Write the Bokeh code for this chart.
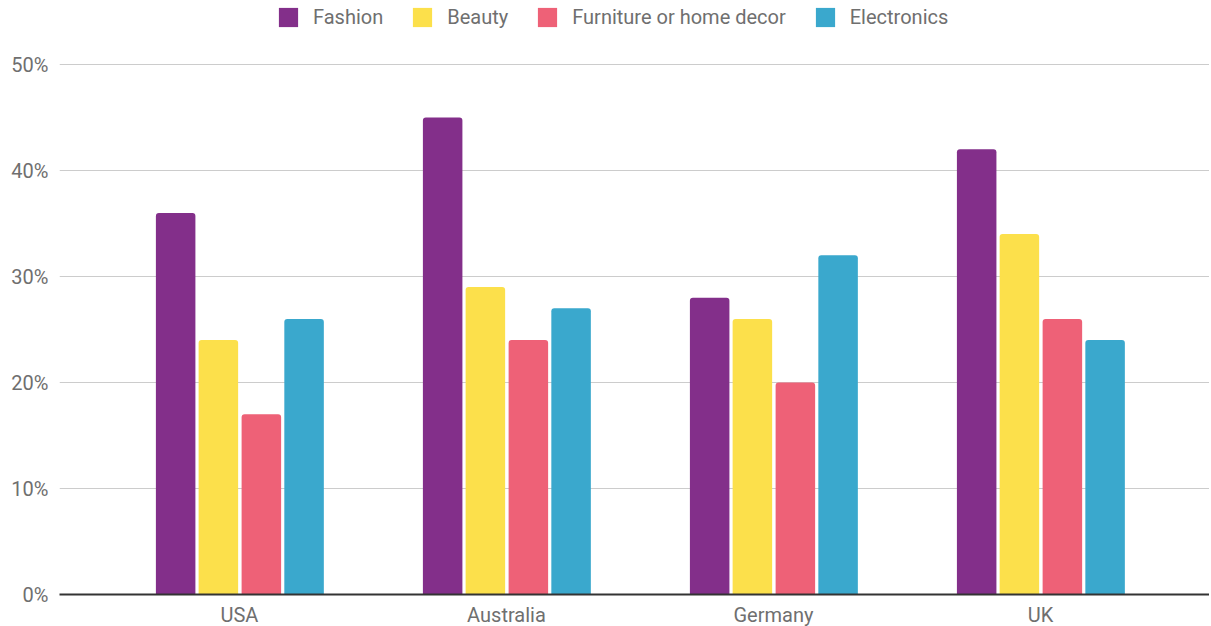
from bokeh.plotting import figure
from bokeh.models import (ColumnDataSource, Legend, LegendItem, FixedTicker,
                          PrintfTickFormatter, Range1d)
from bokeh.embed import file_html
from bokeh.resources import INLINE

countries = ["USA", "Australia", "Germany", "UK"]
series = ["Fashion", "Beauty", "Furniture or home decor", "Electronics"]
fashion = [36, 45, 28, 42]
beauty = [24, 29, 26, 34]
furniture = [17, 24, 20, 26]
electronics = [26, 27, 32, 24]
colors = ["#832F8A", "#FCE04B", "#EE6177", "#3AA8CD"]
y_ticks = [0, 10, 20, 30, 40, 50]

values = [fashion, beauty, furniture, electronics]
offsets = [-0.239, -0.079, 0.082, 0.242]
bar_w = 0.148

p = figure(frame_width=1150, frame_height=594, output_backend="svg", toolbar_location=None,
           x_range=Range1d(-0.674, 3.633), y_range=Range1d(0, 56.04))
p.min_border_left = 59
p.min_border_right = 0
p.min_border_top = 0
p.min_border_bottom = 30
p.outline_line_color = None

items = []
for name, vals, off, col in zip(series, values, offsets, colors):
    src = ColumnDataSource(dict(x=[i + off for i in range(len(countries))], top=vals))
    r = p.vbar(x="x", top="top", width=bar_w, bottom=0, source=src,
               fill_color=col, line_color=None, border_radius=(3, 3, 0, 0))
    items.append(LegendItem(label=name, renderers=[r]))

p.xaxis.ticker = FixedTicker(ticks=list(range(len(countries))))
p.xaxis.major_label_overrides = {i: c for i, c in enumerate(countries)}
p.xaxis.axis_line_color = "#333333"
p.xaxis.axis_line_width = 2
p.xaxis.major_tick_line_color = None
p.xaxis.minor_tick_line_color = None
p.xaxis.major_label_text_font = "Roboto"
p.xaxis.major_label_text_font_size = "20px"
p.xaxis.major_label_text_color = "#6f6f6f"
p.xaxis.major_label_standoff = 2

p.yaxis.ticker = FixedTicker(ticks=y_ticks)
p.yaxis.formatter = PrintfTickFormatter(format="%d%%")
p.yaxis.axis_line_color = None
p.yaxis.major_tick_line_color = None
p.yaxis.minor_tick_line_color = None
p.yaxis.major_label_text_font = "Roboto"
p.yaxis.major_label_text_font_size = "20px"
p.yaxis.major_label_text_color = "#6f6f6f"
p.yaxis.major_label_standoff = 5

p.xgrid.grid_line_color = None
p.ygrid.grid_line_color = "#cccccc"
p.ygrid.grid_line_width = 1

legend = Legend(items=items, orientation="horizontal", location=(217, 565),
                glyph_width=24, glyph_height=24, label_standoff=13, spacing=27,
                padding=0, margin=0, border_line_color=None, background_fill_alpha=0,
                label_text_font="Roboto", label_text_font_size="20px",
                label_text_color="#6f6f6f", label_height=24)
p.add_layout(legend, "center")

open("out.html", "w").write(file_html(p, INLINE))
